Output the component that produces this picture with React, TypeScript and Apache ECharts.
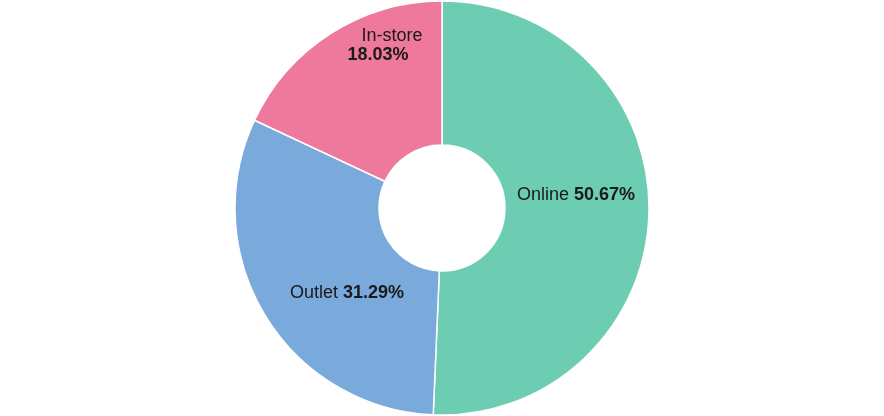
import React, { useEffect, useRef } from "react";
import * as echarts from "echarts";

const categories = ["Online", "Outlet", "In-store"];
const shares = [50.67, 31.29, 18.03];
const colors = ["#6dcdb2", "#7aaadb", "#ef789d"];
// label nudges relative to the default inside position
const labelDx = [-4, 23, 10];
const labelDy = [-17, 12, -47];

const FONT = "Liberation Sans, Arial, sans-serif";

export default function App() {
  const ref = useRef<HTMLDivElement>(null);
  useEffect(() => {
    if (!ref.current) return;
    const chart = echarts.init(ref.current, undefined, { renderer: "svg" });
    chart.setOption({
      animation: false,
      series: [
        {
          type: "pie",
          center: ["50%", "50%"],
          radius: [63, 207],
          startAngle: 90,
          clockwise: true,
          itemStyle: { borderColor: "#ffffff", borderWidth: 1.5 },
          label: {
            show: true,
            position: "inside",
            fontFamily: FONT,
            fontSize: 18,
            color: "#1a1a1a",
            formatter: (p: any) =>
              p.dataIndex === 2
                ? `{nm2|${p.name}}\n{val|${p.value.toFixed(2)}%}`
                : `{nm|${p.name} }{val|${p.value.toFixed(2)}%}`,
            rich: {
              nm: { fontSize: 18, color: "#1a1a1a", fontFamily: FONT, lineHeight: 19 },
              nm2: { fontSize: 18, color: "#1a1a1a", fontFamily: FONT, lineHeight: 19, padding: [0, 0, 0, 28] },
              val: { fontSize: 18, fontWeight: "bold", color: "#1a1a1a", fontFamily: FONT, lineHeight: 19 },
            },
          },
          labelLine: { show: false },
          labelLayout: (params: any) => ({
            dx: labelDx[params.dataIndex],
            dy: labelDy[params.dataIndex],
          }),
          emphasis: { disabled: true },
          data: categories.map((c, i) => ({
            name: c,
            value: shares[i],
            itemStyle: { color: colors[i] },
          })),
        },
      ],
    });
    return () => chart.dispose();
  }, []);
  return (
    <div
      ref={ref}
      style={{ position: "fixed", left: 0, top: 0, width: 884, height: 416 }}
    />
  );
}
